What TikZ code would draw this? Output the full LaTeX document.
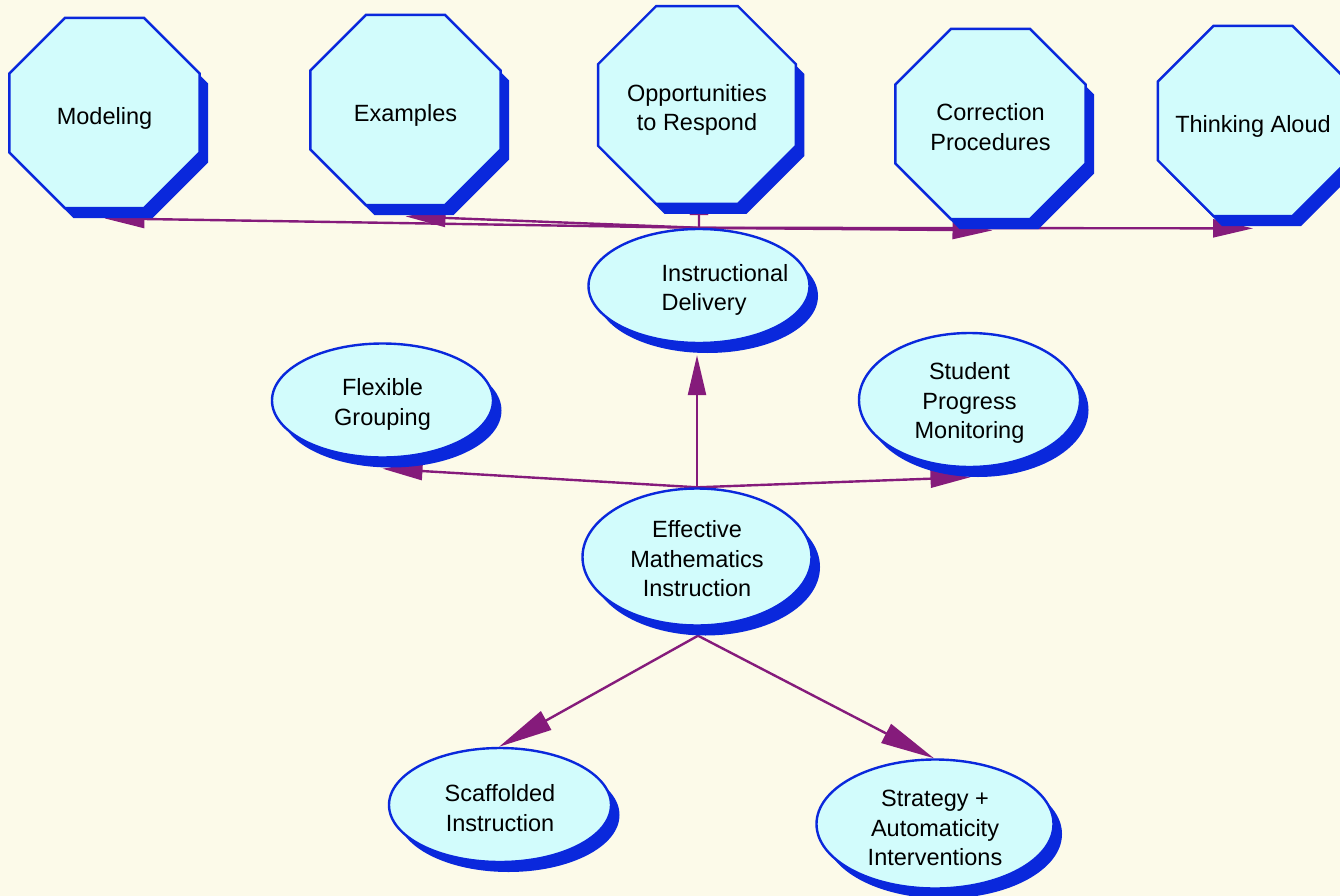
\documentclass[tikz,border=0pt]{standalone}
\usepackage{fontspec}
\setmainfont{Liberation Sans}
\usetikzlibrary{shapes.geometric,shadows,arrows.meta}
\definecolor{bgc}{RGB}{252,250,233}
\definecolor{fillc}{RGB}{210,252,252}
\definecolor{bluec}{RGB}{10,40,220}
\definecolor{purp}{RGB}{133,27,123}
\pgfdeclarelayer{bg}
\pgfdeclarelayer{edges}
\pgfsetlayers{bg,edges,main}
\newcommand\lwr[2][4pt]{\raisebox{-#1}[\height][\depth]{#2}}
\begin{document}
\begin{tikzpicture}[x=1pt,y=-1pt,
  every node/.style={font=\fontsize{23.5}{29.5}\selectfont, align=center, text=black},
  shd/.style={general shadow={fill=bluec, shadow xshift=8.5pt, shadow yshift=-10pt}},
  octo/.style={regular polygon, regular polygon sides=8, draw=bluec, fill=fillc,
    line width=2.4pt, inner sep=0pt, minimum size=206pt, shd},
  oval/.style={ellipse, draw=bluec, fill=fillc, line width=2.4pt, inner sep=0pt,
    minimum width=221pt, minimum height=114pt, shd},
  plain/.style={inner sep=0pt},
  link/.style={draw=purp, line width=2.4pt, -{Triangle[length=40pt,width=18pt]}},
  biglink/.style={draw=purp, line width=2.4pt, -{Triangle[length=54pt,width=21pt]}}
]
\useasboundingbox (0,0) rectangle (1340,896);
\begin{pgfonlayer}{bg}
  \fill[bgc] (0,0) rectangle (1340,896);
\end{pgfonlayer}

% top octagons
\node[octo] (model) at (104.5,113) {\lwr[5pt]{Modeling}};
\node[octo] (ex) at (405.5,110) {\lwr[5pt]{Examples}};
\node[octo, minimum size=211pt] (opp) at (697,105) {\lwr[5pt]{Opportunities}\\\lwr[5pt]{to Respond}};
\node[octo] (corr) at (990.5,124) {\lwr[3pt]{Correction}\\\lwr[3pt]{Procedures}};
\node[octo] (think) at (1253,121) {\lwr[5pt]{\makebox[0pt]{Thinking Aloud}}};

% ellipses
\node[oval] (deliv) at (699,286) {};
\node[plain, align=left] (delivtext) at (725,290) {Instructional\\Delivery};
\node[oval] (flex) at (382.5,400.5) {\lwr{Flexible}\\\lwr{Grouping}};
\node[oval, minimum height=134pt] (stud) at (969.5,400) {\lwr[3pt]{Student}\\\lwr[3pt]{Progress}\\\lwr[3pt]{Monitoring}};
\node[oval, minimum width=229pt, minimum height=137pt] (eff) at (697,557) {\lwr[2pt]{Effective}\\\lwr[2pt]{Mathematics}\\\lwr[2pt]{Instruction}};
\node[oval, minimum width=222pt] (scaf) at (500,805) {\lwr[3pt]{Scaffolded}\\\lwr[3pt]{Instruction}};
\node[oval, minimum width=237pt, minimum height=129pt] (strat) at (935,824) {\lwr[4pt]{Strategy +}\\\lwr[4pt]{Automaticity}\\\lwr[4pt]{Interventions}};

% connectors
\begin{pgfonlayer}{edges}
  \draw[link] (eff.north) -- ([shift={(-2,11)}]deliv.south);
  \draw[link] (eff.north) -- ([shift={(0,10)}]flex.south);
  \draw[link] (eff.north) -- ([shift={(1,9)}]stud.south);
  \draw[biglink] ([shift={(1,9)}]eff.south) -- ([shift={(-1,0)}]scaf.north);
  \draw[biglink] ([shift={(1,9)}]eff.south) -- ([shift={(-1,0)}]strat.north);
  \draw[link] (deliv.north) -- ([shift={(0,9)}]model.south);
  \draw[link] (deliv.north) -- ([shift={(0,10)}]ex.south);
  \draw[link] (deliv.north) -- ([shift={(2,-30)}]opp.south);
  \draw[link] (deliv.north) -- ([shift={(2,10)}]corr.south);
  \draw[link] (deliv.north) -- ([shift={(0,11)}]think.south);
\end{pgfonlayer}
\end{tikzpicture}
\end{document}
